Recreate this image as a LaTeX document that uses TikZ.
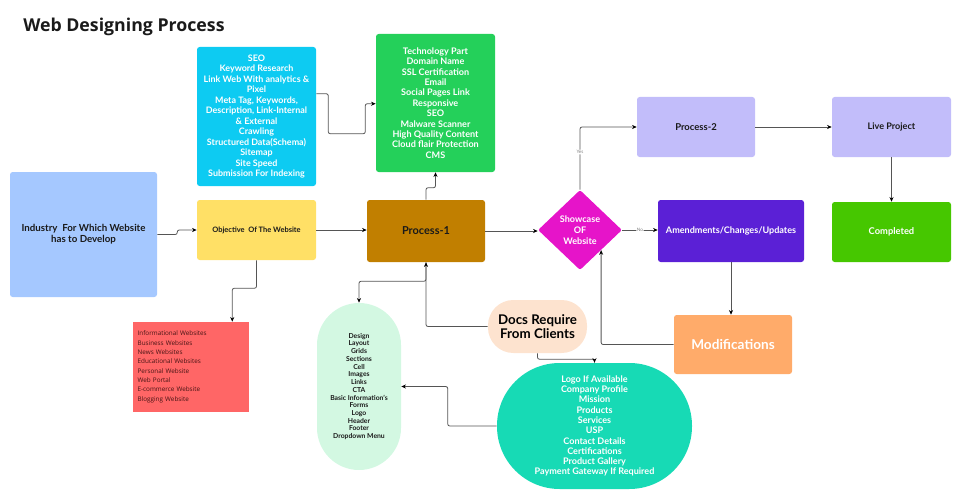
\documentclass[tikz,border=0pt]{standalone}
\usepackage{fontspec}
\setmainfont{Lato}
\newfontfamily\titlefont{Open Sans}
\usetikzlibrary{shapes.geometric,arrows.meta,calc}
\definecolor{skyblue}{HTML}{A5C8FF}
\definecolor{sunyellow}{HTML}{FFE066}
\definecolor{cyanbox}{HTML}{0DCBF2}
\definecolor{techgreen}{HTML}{24D05A}
\definecolor{ochre}{HTML}{C17F00}
\definecolor{magentabox}{HTML}{E614C9}
\definecolor{lavender}{HTML}{C2BDFA}
\definecolor{limegreen}{HTML}{46C700}
\definecolor{violetbox}{HTML}{5B20D6}
\definecolor{orangebox}{HTML}{FFAB6A}
\definecolor{peach}{HTML}{FDE3CF}
\definecolor{tealbox}{HTML}{17DAB5}
\definecolor{mintbox}{HTML}{D3F8E2}
\definecolor{redbox}{HTML}{FF6666}
\definecolor{darktext}{HTML}{1A1A1A}
\definecolor{linegray}{HTML}{555555}
\newcommand{\fsz}[2]{\fontsize{#1}{#2}\selectfont}

\begin{document}
\begin{tikzpicture}[x=0.75pt,y=-0.75pt,
  box/.style={rectangle, rounded corners=2pt, inner sep=2pt, align=center, font=\bfseries},
  conn/.style={draw=linegray, line width=0.6pt, rounded corners=1.5pt, -{Stealth[length=3.5pt,width=3pt,color=black]}},
  tag/.style={font=\fsz{3.5}{4}, text=gray, fill=white, inner sep=0.5pt}]
\useasboundingbox (0,0) rectangle (968,503);

% Title
\node[anchor=west, inner sep=0pt, font=\titlefont\bfseries\fsz{13.3}{15}, text=darktext] (title) at (23,27) {Web Designing Process};

% Left column
\node[box, fill=skyblue, text=darktext, minimum width=110.25pt, minimum height=93.75pt, font=\bfseries\fsz{7.3}{8.3}] (industry) at (83.5,234.5) {Industry\ \ For Which Website\\has to Develop};
\node[box, fill=sunyellow, text=darktext, minimum width=89.25pt, minimum height=45pt, font=\bfseries\fsz{5.6}{6.5}] (objective) at (256.5,230) {Objective\ \ Of The Website};
\node[box, fill=cyanbox, text=white, minimum width=89.25pt, minimum height=104.25pt, font=\bfseries\fsz{6.7}{7.9}] (seo) at (256.5,116.5) {SEO\\Keyword Research\\Link Web With analytics \&\\Pixel\\Meta Tag, Keywords,\\Description, Link-Internal\\\& External\\Crawling\\Structured Data(Schema)\\Sitemap\\Site Speed\\Submission For Indexing};
\node[rectangle, fill=redbox, text=darktext!80!red, minimum width=87pt, minimum height=67.5pt, text width=80pt, align=left, inner sep=3pt, font=\titlefont\fsz{4.75}{7}] (websites) at (191,367) {Informational Websites\\Business Websites\\News Websites\\Educational Websites\\Personal Website\\Web Portal\\E-commerce Website\\Blogging Website};

% Middle column
\node[box, fill=techgreen, text=white, minimum width=89.25pt, minimum height=103.5pt, font=\bfseries\fsz{6.8}{7.8}] (tech) at (435.5,103) {Technology Part\\Domain Name\\SSL Certification\\Email\\Social Pages Link\\Responsive\\SEO\\Malware Scanner\\High Quality Content\\Cloud flair Protection\\CMS};
\node[box, fill=ochre, text=darktext, minimum width=88.5pt, minimum height=46.5pt, font=\bfseries\fsz{8.2}{9}] (process1) at (426,231) {Process-1};
\node[rectangle, rounded corners=31.5pt, fill=mintbox, text=darktext, minimum width=63pt, minimum height=125.25pt, align=center, inner sep=1pt, font=\bfseries\fsz{5.1}{5.8}] (design) at (359,386.5) {Design\\Layout\\Grids\\Sections\\Cell\\Images\\Links\\CTA\\Basic Information's\\Forms\\Logo\\Header\\Footer\\Dropdown Menu};
\node[rectangle, rounded corners=19pt, fill=peach, text=black, minimum width=74.25pt, minimum height=39.75pt, align=center, inner sep=1pt, font=\bfseries\fsz{10}{10.5}] (docs) at (537.5,326.5) {Docs Require\\From Clients};
\node[rectangle, rounded corners=47pt, fill=tealbox, text=white, minimum width=146.25pt, minimum height=94.5pt, align=center, inner sep=1pt, font=\bfseries\fsz{6.8}{7.7}] (clients) at (594.5,426) {Logo If Available\\Company Profile\\Mission\\Products\\Services\\USP\\Contact Details\\Certifications\\Product Gallery\\Payment Gateway If Required};

% Decision
\node[diamond, fill=magentabox, text=white, minimum width=63pt, minimum height=60pt, inner sep=0pt, rounded corners=1.5pt, align=center, font=\bfseries\fsz{6.8}{8}] (showcase) at (580,230) {Showcase\\OF\\Website};

% Right part
\node[box, fill=lavender, text=darktext, minimum width=88.5pt, minimum height=45pt, font=\bfseries\fsz{7.1}{8}] (process2) at (696,127) {Process-2};
\node[box, fill=lavender, text=darktext, minimum width=89.25pt, minimum height=45pt, font=\bfseries\fsz{6.8}{8}] (live) at (891.5,127) {Live Project};
\node[box, fill=limegreen, text=white, minimum width=89.25pt, minimum height=45pt, font=\bfseries\fsz{7}{8}] (completed) at (891.5,232) {Completed};
\node[box, fill=violetbox, text=white, minimum width=109.5pt, minimum height=46.5pt, font=\bfseries\fsz{6.8}{8}] (amend) at (731,231) {Amendments/Changes/Updates};
\node[box, fill=orangebox, text=white, minimum width=88.5pt, minimum height=44.25pt, font=\bfseries\fsz{10.2}{11}] (modif) at (733,344.5) {Modifications};

% Connectors
\draw[conn] (industry.east) -- ++(20,0) |- (objective.west);
\draw[conn] ($(seo.north east)+(0,47)$) -- ++(12,0) -- ++(0,40) -- ++(37,0) |- ($(tech.north west)+(0,70)$);
\draw[conn] (objective.east) -- (objective.east -| process1.west);
\draw[conn] (objective.south) -- ++(0,28) -| ($(websites.north east)+(-17,0)$);
\draw[conn] (process1.north) -- ++(0,-12) -| (tech.south);
\draw[conn] (process1.south) -- ++(0,19) -| (design.north);
\draw[conn] (docs.west) -| (process1.south);
\draw[conn] (docs.south) -- ++(0,6) -| (clients.north);
\draw[conn] (clients.west) -- ++(-49,0) |- (design.east);
\draw[conn] (process1.east) -- (process1.east -| showcase.west);
\draw[conn] (showcase.north) |- node[tag, pos=0.3] {Yes} (process2.west);
\draw[conn] (showcase.east) -- node[tag] {No} (showcase.east -| amend.west);
\draw[conn] (process2.east) -- (live.west);
\draw[conn] (live.south) -- (completed.north);
\draw[conn] (amend.south) -- (amend.south |- modif.north);
\draw[conn] (modif.west) -| (showcase.south east);
\end{tikzpicture}
\end{document}
